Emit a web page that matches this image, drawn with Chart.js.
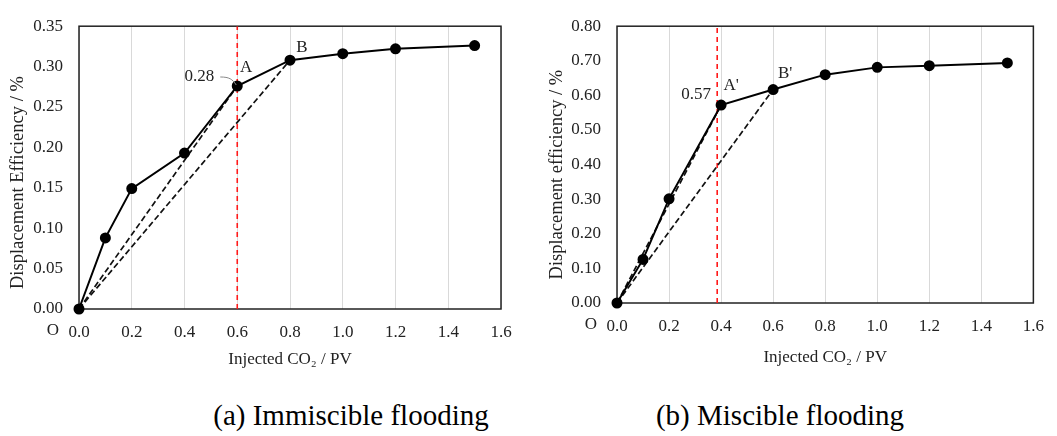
<!DOCTYPE html>
<html>
<head>
<meta charset="utf-8">
<script src="https://cdn.jsdelivr.net/npm/chart.js@4"></script>
<style>
  body { margin: 0; background: #fff; width: 1057px; height: 436px; position: relative; overflow: hidden; font-family: "Liberation Serif", "Times New Roman", serif; }
  #left { position: absolute; left: 0; top: 0; }
  #right { position: absolute; left: 530px; top: 0; }
  .caption { position: absolute; top: 398px; font-size: 29px; color: #000; transform: translateX(-50%); white-space: nowrap; line-height: 34px; }
</style>
</head>
<body>
<canvas id="left" width="530" height="374"></canvas>
<canvas id="right" width="527" height="372"></canvas>
<div class="caption" style="left:351px">(a) Immiscible flooding</div>
<div class="caption" style="left:780px">(b) Miscible flooding</div>
<script>
// DATA
const injected = [0, 0.1, 0.2, 0.4, 0.6, 0.8, 1.0, 1.2, 1.5];
const immiscible = [0, 0.088, 0.149, 0.193, 0.276, 0.308, 0.316, 0.322, 0.326];
const miscible = [0, 0.126, 0.301, 0.572, 0.617, 0.660, 0.681, 0.686, 0.694];
const xTicks = [0, 1.6, 0.2];          // min, max, step
const immiscibleTicks = [0, 0.35, 0.05];
const miscibleTicks = [0, 0.8, 0.1];
const immiscibleMark = 0.6;            // red dashed line
const miscibleMark = 0.385;
const immiscibleDashTo = [4, 5];       // A, B
const miscibleDashTo = [3, 4];         // A', B'

const serif = '"Liberation Serif", "Times New Roman", serif';

// FRAME, Y TITLE, LETTERS AND "O"
const decor = {
  id: 'decor',
  beforeDatasetsDraw(chart) {
    const a = chart.chartArea, ctx = chart.ctx;
    ctx.save();
    ctx.strokeStyle = '#222';
    ctx.lineWidth = 1.5;
    ctx.strokeRect(a.left, a.top, a.right - a.left, a.bottom - a.top);
    ctx.restore();
  },
  afterDatasetsDraw(chart, args, opts) {
    const a = chart.chartArea, ctx = chart.ctx;
    const xs = chart.scales.x, ys = chart.scales.y;
    const vals = chart.data.datasets[0].data;
    ctx.save();
    ctx.fillStyle = '#222';
    ctx.textAlign = 'center';
    ctx.textBaseline = 'middle';
    ctx.font = '17px ' + serif;
    ctx.fillText('O', a.left - 26, a.bottom + 22);
    // y axis title, a bit below the middle like the original
    ctx.save();
    ctx.translate(opts.yTitle.x, (a.top + a.bottom) / 2 + opts.yTitle.shift);
    ctx.rotate(-Math.PI / 2);
    ctx.font = '18.5px ' + serif;
    ctx.fillText(opts.yTitle.text, 0, 0);
    ctx.restore();
    opts.labels.forEach(l => {
      const p = vals[l.at];
      const px = xs.getPixelForValue(p.x), py = ys.getPixelForValue(p.y);
      ctx.font = l.size + 'px ' + serif;
      ctx.fillText(l.text, px + l.dx, py + l.dy);
      if (l.leader) {
        ctx.strokeStyle = '#888';
        ctx.lineWidth = 1;
        ctx.beginPath();
        ctx.moveTo(px - 17, py - 9);
        ctx.bezierCurveTo(px - 8, py - 9, px - 5, py - 7, px - 1, py - 1);
        ctx.stroke();
      }
    });
    ctx.restore();
  }
};

function makeChart(id, values, yTicks, mark, dashTo, yTitle, pad, scaleSizes, labels) {
  const pts = injected.map((x, i) => ({ x: x, y: values[i] }));
  const dashed = dashTo.map(k => ({
    data: [{ x: 0, y: 0 }, pts[k]],
    showLine: true, borderColor: '#111', borderWidth: 1.7, borderDash: [6, 3],
    pointRadius: 0, order: 1
  }));
  return new Chart(document.getElementById(id), {
    type: 'scatter',
    data: {
      datasets: [
        { data: pts, showLine: true, borderColor: '#000', borderWidth: 2,
          pointRadius: 4.5, pointBackgroundColor: '#000', pointBorderColor: '#000',
          clip: false, order: 0 },
        ...dashed,
        { data: [{ x: mark, y: yTicks[0] }, { x: mark, y: yTicks[1] }], showLine: true,
          borderColor: '#ff1a1a', borderWidth: 1.6, borderDash: [5, 4], pointRadius: 0, order: 2 }
      ]
    },
    options: {
      responsive: false,
      animation: false,
      layout: { padding: pad },
      plugins: { legend: { display: false }, tooltip: { enabled: false },
                 decor: { labels: labels, yTitle: yTitle } },
      scales: {
        x: {
          type: 'linear', min: xTicks[0], max: xTicks[1],
          afterFit: s => { s.height = scaleSizes[1]; },
          ticks: { stepSize: xTicks[2], padding: 13, color: '#222', font: { family: serif, size: 17 },
                   callback: v => v.toFixed(1) },
          grid: { color: '#d9d9d9', lineWidth: 1, drawTicks: false },
          border: { display: false },
          title: { display: true, text: 'Injected CO\u2082 / PV', color: '#222', padding: { top: 4, bottom: 4 },
                   font: { family: serif, size: 17 } }
        },
        y: {
          min: yTicks[0], max: yTicks[1],
          afterFit: s => { s.width = scaleSizes[0]; },
          ticks: { stepSize: yTicks[2], padding: 16, color: '#222', font: { family: serif, size: 17 },
                   callback: v => v.toFixed(2) },
          grid: { display: false, drawTicks: false },
          border: { display: false }
        }
      }
    },
    plugins: [decor]
  });
}

makeChart('left', immiscible, immiscibleTicks, immiscibleMark, immiscibleDashTo,
  { text: 'Displacement Efficiency / %', x: 18, shift: 15 },
  { left: 0, top: 15, right: 29, bottom: 0 }, [79, 65],
  [{ text: 'A', at: 4, dx: 9, dy: -18, size: 17 },
   { text: 'B', at: 5, dx: 12, dy: -13, size: 17 },
   { text: '0.28', at: 4, dx: -38, dy: -9, size: 17, leader: true }]);

makeChart('right', miscible, miscibleTicks, miscibleMark, miscibleDashTo,
  { text: 'Displacement efficiency / %', x: 27, shift: 10 },
  { left: 0, top: 17, right: 18, bottom: 0 }, [87, 69],
  [{ text: "A'", at: 3, dx: 10, dy: -20, size: 17 },
   { text: "B'", at: 4, dx: 12, dy: -16, size: 17 },
   { text: '0.57', at: 3, dx: -25, dy: -11, size: 17 }]);
</script>
</body>
</html>
